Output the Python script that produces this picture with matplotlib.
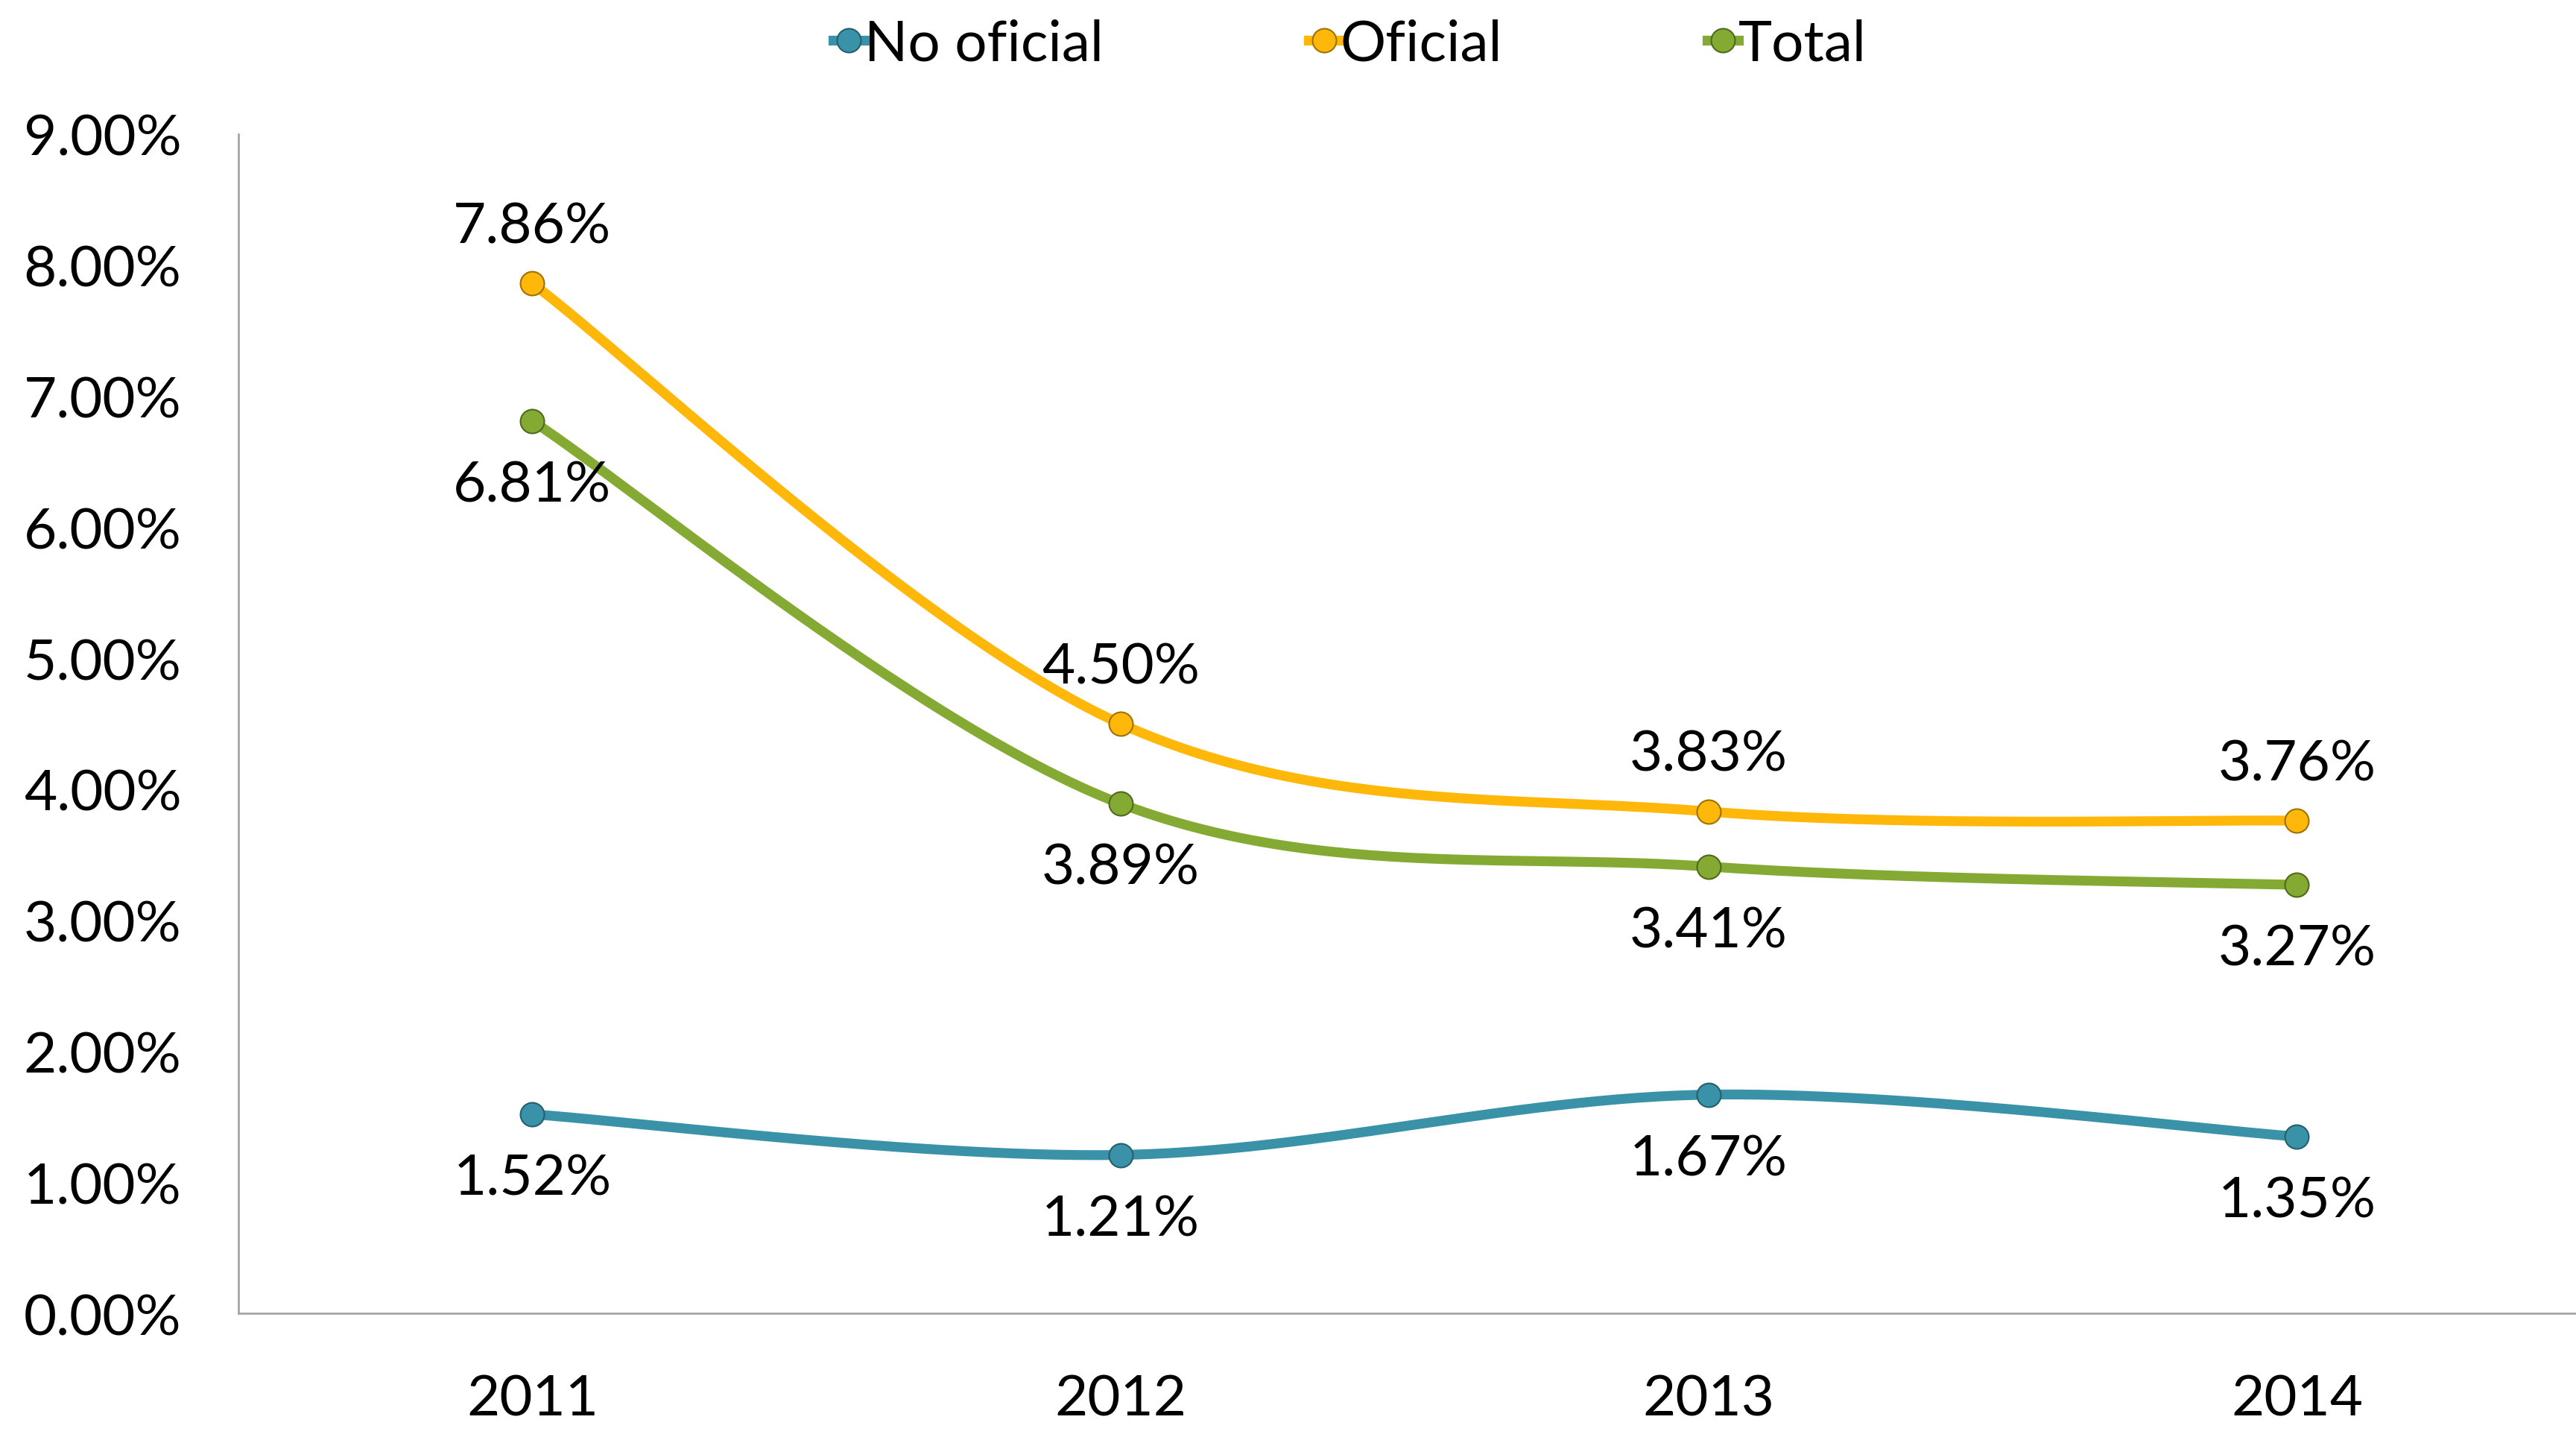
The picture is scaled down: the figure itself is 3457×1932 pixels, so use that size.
import numpy as np
import matplotlib
matplotlib.use("Agg")
import matplotlib.pyplot as plt
from matplotlib.lines import Line2D

plt.rcParams['font.family'] = ['Lato', 'DejaVu Sans']

years = ['2011', '2012', '2013', '2014']
no_oficial = [1.52, 1.21, 1.67, 1.35]
oficial = [7.86, 4.50, 3.83, 3.76]
total = [6.81, 3.89, 3.41, 3.27]

series = [
    ('No oficial', no_oficial, '#3A92A8', '#245F6E', 'below'),
    ('Oficial', oficial, '#FFB70A', '#9C7200', 'above'),
    ('Total', total, '#84AA34', '#4F6A1C', 'below'),
]


def smooth(xs, ys, n=60):
    # excel-like smoothing: bezier segments with catmull-rom control points
    xs = np.asarray(xs, float)
    ys = np.asarray(ys, float)
    px = np.concatenate([[xs[0]], xs, [xs[-1]]])
    py = np.concatenate([[ys[0]], ys, [ys[-1]]])
    outx, outy = [], []
    t = np.linspace(0, 1, n)
    for i in range(1, len(xs)):
        p0 = np.array([px[i], py[i]])
        p3 = np.array([px[i + 1], py[i + 1]])
        c1 = p0 + (np.array([px[i + 1], py[i + 1]]) - np.array([px[i - 1], py[i - 1]])) / 6
        c2 = p3 - (np.array([px[i + 2], py[i + 2]]) - np.array([px[i], py[i]])) / 6
        b = ((1 - t) ** 3)[:, None] * p0 + (3 * (1 - t) ** 2 * t)[:, None] * c1 \
            + (3 * (1 - t) * t ** 2)[:, None] * c2 + (t ** 3)[:, None] * p3
        outx.extend(b[:, 0])
        outy.extend(b[:, 1])
    return np.array(outx), np.array(outy)


fig = plt.figure(figsize=(34.57, 19.33), dpi=100)
ax = fig.add_axes([0.0925, 0.0878, 0.9133, 0.8187])

x = np.arange(len(years))
handles = []
for name, vals, color, edge, pos in series:
    sx, sy = smooth(x, vals)
    ax.plot(sx, sy, color=color, lw=9.5, solid_capstyle='round', zorder=2, clip_on=False)
    ax.plot(x, vals, 'o', ms=23, color=color, mec=edge, mew=1.5, zorder=3, clip_on=False)
    for xi, v in zip(x, vals):
        dy = 55 if pos == 'above' else -62
        ax.annotate(f'{v:.2f}%', (xi, v), xytext=(0, dy), textcoords='offset points',
                    ha='center', va='center', fontsize=55, color='black')
    handles.append(Line2D([], [], color=color, lw=9.5, marker='o', ms=23,
                          mec=edge, mew=1.5, label=name))

ax.set_xlim(-0.5, 3.5)
ax.set_ylim(0, 9)
ax.set_xticks(x)
ax.set_xticklabels(years)
ax.set_yticks(np.arange(0, 10, 1))
ax.set_yticklabels([f'{v:.2f}%' for v in range(10)])
ax.tick_params(axis='both', length=0, labelsize=55)
ax.tick_params(axis='x', pad=58)
ax.tick_params(axis='y', pad=55)
for s in ['top', 'right']:
    ax.spines[s].set_visible(False)
for s in ['left', 'bottom']:
    ax.spines[s].set_color('#A6A6A6')
    ax.spines[s].set_linewidth(2)

fig.legend(handles=handles, loc='center', bbox_to_anchor=(0.524, 0.969), ncol=3,
           frameon=False, fontsize=55, handlelength=0.55, handletextpad=0.0,
           columnspacing=3.6, borderpad=0)

fig.savefig('out.png', dpi=100)
